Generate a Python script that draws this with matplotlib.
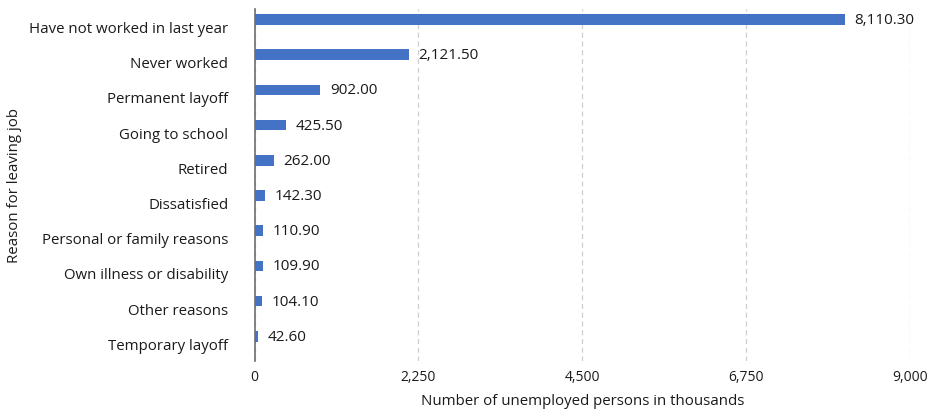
import matplotlib.pyplot as plt

plt.rcParams['font.family'] = ['Open Sans', 'DejaVu Sans']

reasons = ['Temporary layoff', 'Other reasons', 'Own illness or disability',
           'Personal or family reasons', 'Dissatisfied', 'Retired',
           'Going to school', 'Permanent layoff', 'Never worked',
           'Have not worked in last year']
persons = [42.6, 104.1, 109.9, 110.9, 142.3, 262.0, 425.5, 902.0, 2121.5, 8110.3]
xticks = [0, 2250, 4500, 6750, 9000]

fig = plt.figure(figsize=(9.33, 4.10), dpi=100)
ax = fig.add_axes([0.273, 0.117, 0.702, 0.859])

pos = list(range(len(reasons)))
bar_pos = [p + 0.2 for p in pos]
ax.barh(bar_pos, persons, height=0.3, color='#4472C4', zorder=3)

for y, v in zip(bar_pos, persons):
    ax.text(v + 130, y, f'{v:,.2f}', va='center', ha='left', fontsize=11, color='#1a1a1a')

ax.set_yticks(pos)
ax.set_yticklabels(reasons, fontsize=10.8, color='#1a1a1a')
ax.set_xticks(xticks)
ax.set_xticklabels([f'{t:,}' for t in xticks], fontsize=10, color='#1a1a1a')
ax.set_xlim(0, 9000)
ax.set_ylim(-0.5, 9.5)

ax.tick_params(axis='both', length=0)
ax.tick_params(axis='y', pad=19)
ax.tick_params(axis='x', pad=6)
ax.xaxis.grid(True, linestyle=(0, (4, 3)), color='#cfcfcf', linewidth=0.9, zorder=0)
for s in ['top', 'right', 'bottom']:
    ax.spines[s].set_visible(False)
ax.spines['left'].set_color('#6e6e6e')
ax.spines['left'].set_linewidth(1.2)

ax.set_xlabel('Number of unemployed persons in thousands', fontsize=10.8, color='#1a1a1a', labelpad=6)
ax.set_ylabel('Reason for leaving job', fontsize=10.8, color='#1a1a1a')
ax.yaxis.set_label_coords(-0.355, 0.5)

fig.savefig('out.png', dpi=100)
